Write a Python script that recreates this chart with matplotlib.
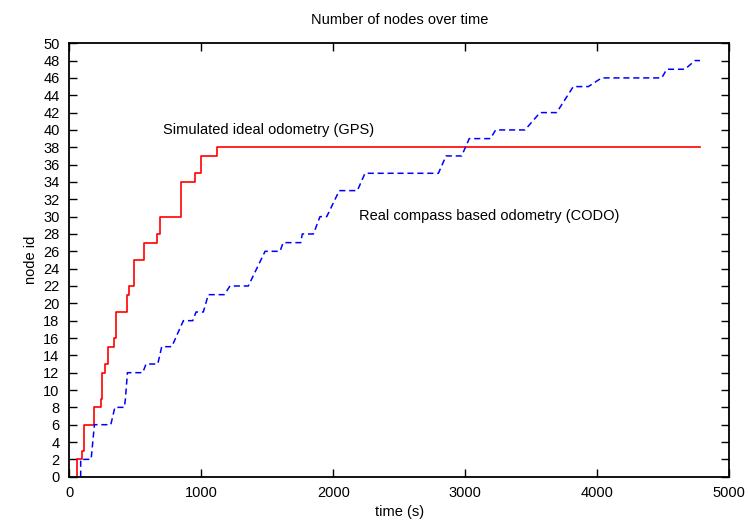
import numpy as np
import matplotlib.pyplot as plt

plt.rcParams['font.family'] = ['Liberation Sans', 'DejaVu Sans']

# GPS (simulated ideal odometry): step changes of node id
gps_time = [56, 56, 99, 114, 187, 238, 250, 270, 296, 341, 356, 435, 455, 488,
            568, 667, 689, 846, 955, 1000, 1119, 4780]
gps_nodes = [0, 2, 3, 6, 8, 9, 12, 13, 15, 16, 19, 21, 22, 25,
             27, 28, 30, 34, 35, 37, 38, 38]

# CODO (real compass based odometry): traced vertices
codo_time = [86, 86, 165, 190, 314, 345, 417, 425, 440, 556, 581, 670, 700, 776,
             864, 935, 960, 1015, 1053, 1174, 1217, 1356, 1483, 1596, 1620, 1753,
             1765, 1849, 1899, 1950, 2045, 2182, 2240, 2796, 2854, 2972, 3030,
             3190, 3230, 3452, 3566, 3692, 3818, 3932, 4033, 4488, 4526, 4664,
             4740, 4778]
codo_nodes = [0, 2, 2, 6, 6, 8, 8, 9, 12, 12, 13, 13, 15, 15,
              18, 18, 19, 19, 21, 21, 22, 22, 26, 26, 27, 27,
              28, 28, 30, 30, 33, 33, 35, 35, 37, 37, 39,
              39, 40, 40, 42, 42, 45, 45, 46, 46, 47, 47,
              48, 48]

fig = plt.figure(figsize=(7.48, 5.21), dpi=100)
ax = fig.add_axes([0.0927, 0.085, 0.8823, 0.832])

ax.plot(gps_time, gps_nodes, color='#ff0000', lw=1.2, drawstyle='steps-post')
ax.plot(codo_time, codo_nodes, color='#0000ff', lw=1.1, linestyle=(0, (4, 2.5)))

ax.text(710, 40.0, 'Simulated ideal odometry (GPS)', fontsize=10.5, va='center')
ax.text(2195, 30.1, 'Real compass based odometry (CODO)', fontsize=10.5, va='center')

ax.set_xlim(0, 5000)
ax.set_ylim(0, 50)
ax.set_xticks(np.arange(0, 5001, 1000))
ax.set_yticks(np.arange(0, 51, 2))
ax.tick_params(direction='in', length=6, width=1, top=True, right=True,
               labelsize=10.5, pad=7)
for s in ax.spines.values():
    s.set_linewidth(1.3)

ax.set_title('Number of nodes over time', fontsize=10.5, pad=14)
ax.set_xlabel('time (s)', fontsize=10.5, labelpad=3)
ax.set_ylabel('node id', fontsize=10.5, labelpad=4)

fig.savefig('out.png', dpi=100)
